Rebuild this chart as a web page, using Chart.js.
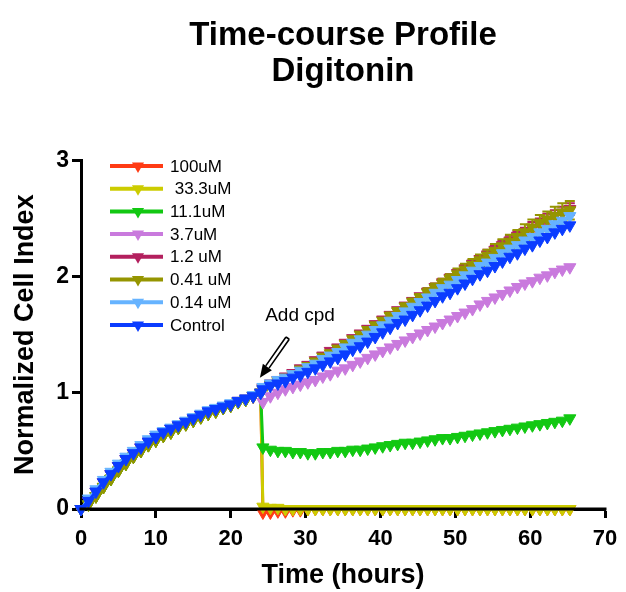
<!DOCTYPE html>
<html>
<head>
<meta charset="utf-8">
<title>Time-course Profile Digitonin</title>
<script src="https://cdn.jsdelivr.net/npm/chart.js@4/dist/chart.umd.min.js"></script>
<style>
  body { margin: 0; background: #fff; }
  #chart { display: block; }
</style>
</head>
<body>
<canvas id="chart" width="626" height="592"></canvas>
<script>
// sampling times (h): hourly until compound addition, then hourly after
const hours = [
  0, 1, 2, 3, 4, 5, 6, 7, 8, 9, 10, 11, 12, 13, 14, 15, 16, 17, 18, 19, 20, 21, 22, 23, 24,
  24.3, 25.3, 26.3, 27.3, 28.3, 29.3, 30.3, 31.3, 32.3, 33.3, 34.3, 35.3, 36.3, 37.3,
  38.3, 39.3, 40.3, 41.3, 42.3, 43.3, 44.3, 45.3, 46.3, 47.3, 48.3, 49.3, 50.3, 51.3,
  52.3, 53.3, 54.3, 55.3, 56.3, 57.3, 58.3, 59.3, 60.3, 61.3, 62.3, 63.3, 64.3, 65.3
];

const labels = ['100uM', ' 33.3uM', '11.1uM', '3.7uM', '1.2 uM', '0.41 uM', '0.14 uM', 'Control'];
const colors = ['#ff3b14', '#cccc00', '#12c812', '#c97add', '#b3205e', '#959500', '#66b3ff', '#0a3cff'];

// growth before addition (normalised to 1 at 24 h)
const preUpper = [0, 0.07, 0.15, 0.23, 0.30, 0.37, 0.43, 0.48, 0.53, 0.58, 0.62, 0.66, 0.69,
  0.72, 0.75, 0.78, 0.81, 0.84, 0.86, 0.88, 0.90, 0.93, 0.95, 0.97, 1.00];
const preLight = [0, 0.09, 0.17, 0.25, 0.32, 0.39, 0.45, 0.50, 0.55, 0.60, 0.64, 0.67, 0.70,
  0.73, 0.76, 0.79, 0.82, 0.85, 0.87, 0.89, 0.91, 0.93, 0.95, 0.98, 1.00];
const preLower = [0, 0.04, 0.11, 0.19, 0.26, 0.33, 0.39, 0.45, 0.50, 0.55, 0.59, 0.63, 0.66,
  0.70, 0.73, 0.76, 0.79, 0.82, 0.84, 0.87, 0.89, 0.92, 0.94, 0.97, 1.00];

// after addition
const post100 = [-0.03, -0.03, -0.02, -0.02, -0.01, -0.01, 0.00, 0.00, 0.00, 0.00, 0.00, 0.00, 0.00, 0.00,
  0.00, 0.00, 0.00, 0.00, 0.00, 0.00, 0.00, 0.00, 0.00, 0.00, 0.00, 0.00, 0.00, 0.00, 0.00, 0.00, 0.00,
  0.00, 0.00, 0.00, 0.00, 0.00, 0.00, 0.00, 0.00, 0.00, 0.00, 0.00];
const post33 = [0.02, 0.01, 0.01, 0.00, 0.00, 0.00, 0.00, 0.00, 0.00, 0.00, 0.00, 0.00, 0.00, 0.00,
  0.00, 0.00, 0.00, 0.00, 0.00, 0.00, 0.00, 0.00, 0.00, 0.00, 0.00, 0.00, 0.00, 0.00, 0.00, 0.00, 0.00,
  0.00, 0.00, 0.00, 0.00, 0.00, 0.00, 0.00, 0.00, 0.00, 0.00, 0.00];
const post11 = [0.53, 0.51, 0.50, 0.50, 0.49, 0.49, 0.48, 0.48, 0.49, 0.49, 0.50, 0.50, 0.51, 0.51,
  0.52, 0.53, 0.54, 0.55, 0.56, 0.57, 0.57, 0.58, 0.59, 0.60, 0.61, 0.61, 0.62, 0.63, 0.64, 0.65, 0.66,
  0.67, 0.68, 0.69, 0.70, 0.71, 0.72, 0.73, 0.74, 0.75, 0.76, 0.78];
const post37 = [0.92, 0.97, 1.00, 1.03, 1.05, 1.07, 1.09, 1.11, 1.14, 1.16, 1.19, 1.21, 1.24, 1.27,
  1.30, 1.33, 1.36, 1.39, 1.42, 1.45, 1.48, 1.51, 1.54, 1.57, 1.60, 1.63, 1.66, 1.69, 1.72, 1.76, 1.79,
  1.82, 1.85, 1.88, 1.91, 1.94, 1.96, 1.99, 2.01, 2.04, 2.06, 2.08];
const post12 = [1.04, 1.08, 1.11, 1.14, 1.17, 1.21, 1.24, 1.28, 1.32, 1.36, 1.39, 1.43, 1.47, 1.51,
  1.55, 1.59, 1.63, 1.67, 1.71, 1.75, 1.79, 1.83, 1.87, 1.91, 1.95, 1.99, 2.03, 2.07, 2.11, 2.15, 2.19,
  2.23, 2.27, 2.31, 2.35, 2.38, 2.42, 2.45, 2.49, 2.52, 2.55, 2.58];
const post041 = [1.03, 1.07, 1.10, 1.13, 1.16, 1.20, 1.23, 1.27, 1.31, 1.34, 1.38, 1.42, 1.46, 1.50,
  1.54, 1.58, 1.62, 1.66, 1.70, 1.74, 1.78, 1.82, 1.86, 1.90, 1.94, 1.98, 2.02, 2.06, 2.10, 2.14, 2.18,
  2.22, 2.26, 2.30, 2.34, 2.38, 2.42, 2.46, 2.49, 2.52, 2.55, 2.57];
const post014 = [1.05, 1.08, 1.11, 1.13, 1.16, 1.19, 1.22, 1.25, 1.29, 1.32, 1.35, 1.39, 1.43, 1.46,
  1.50, 1.54, 1.58, 1.62, 1.66, 1.70, 1.74, 1.78, 1.82, 1.86, 1.90, 1.93, 1.97, 2.01, 2.05, 2.09, 2.12,
  2.16, 2.20, 2.24, 2.27, 2.31, 2.34, 2.38, 2.41, 2.45, 2.48, 2.52];
const postCtrl = [1.03, 1.06, 1.08, 1.10, 1.13, 1.15, 1.18, 1.21, 1.24, 1.27, 1.30, 1.33, 1.37, 1.40,
  1.44, 1.48, 1.52, 1.56, 1.60, 1.63, 1.67, 1.71, 1.75, 1.79, 1.83, 1.86, 1.90, 1.94, 1.98, 2.02, 2.05,
  2.09, 2.13, 2.17, 2.20, 2.24, 2.27, 2.31, 2.34, 2.38, 2.41, 2.44];

// SD after addition (only these two show outside the symbols)
const sd12 = [0.01, 0.01, 0.01, 0.01, 0.01, 0.01, 0.01, 0.01, 0.01, 0.01, 0.01, 0.01, 0.01, 0.01,
  0.02, 0.02, 0.02, 0.02, 0.02, 0.02, 0.02, 0.02, 0.03, 0.03, 0.03, 0.03, 0.03, 0.03, 0.03, 0.03,
  0.04, 0.04, 0.04, 0.04, 0.04, 0.04, 0.05, 0.05, 0.05, 0.05, 0.05, 0.05];
const sd041 = [0.01, 0.01, 0.01, 0.01, 0.01, 0.01, 0.01, 0.01, 0.01, 0.01, 0.02, 0.02, 0.02, 0.02,
  0.02, 0.02, 0.02, 0.03, 0.03, 0.03, 0.03, 0.03, 0.04, 0.04, 0.04, 0.04, 0.05, 0.05, 0.05, 0.05,
  0.05, 0.06, 0.06, 0.06, 0.06, 0.07, 0.07, 0.07, 0.07, 0.08, 0.08, 0.08];

const series = [
  [...preLower, ...post100],
  [...preLower, ...post33],
  [...preLower, ...post11],
  [...preUpper, ...post37],
  [...preUpper, ...post12],
  [...preLower, ...post041],
  [...preLight, ...post014],
  [...preUpper, ...postCtrl]
];
const sds = [null, null, null, null, sd12, sd041, null, null];

const FONT = "'Liberation Sans', Arial, Helvetica, sans-serif";

const datasets = series.map((vals, i) => ({
  label: labels[i],
  data: vals.map((v, j) => ({ x: hours[j], y: v })),
  sd: sds[i],
  borderColor: colors[i],
  backgroundColor: colors[i],
  borderWidth: 3,
  pointStyle: 'triangle',
  rotation: 180,
  pointRadius: 7,
  pointBorderWidth: 1,
  pointBackgroundColor: colors[i],
  pointBorderColor: colors[i],
  tension: 0,
  clip: false,
  order: series.length - 1 - i   // later series end up on top
}));

// SD whiskers, drawn just under each series
const errorBars = {
  id: 'errorBars',
  beforeDatasetDraw(chart, args) {
    const ds = chart.data.datasets[args.index];
    if (!ds.sd) return;
    const { ctx, scales: { x, y } } = chart;
    const off = hours.length - ds.sd.length;
    ctx.save();
    ctx.strokeStyle = ds.borderColor;
    ctx.lineWidth = 2;
    ds.sd.forEach((s, k) => {
      const p = ds.data[k + off];
      const px = x.getPixelForValue(p.x);
      const top = y.getPixelForValue(p.y + s);
      const bot = y.getPixelForValue(p.y - s);
      ctx.beginPath();
      ctx.moveTo(px, top); ctx.lineTo(px, bot);
      ctx.moveTo(px - 5, top); ctx.lineTo(px + 5, top);
      ctx.moveTo(px - 5, bot); ctx.lineTo(px + 5, bot);
      ctx.stroke();
    });
    ctx.restore();
  }
};

// the x axis line sits over the symbols that lie on zero
const axisOnTop = {
  id: 'axisOnTop',
  afterDatasetsDraw(chart) {
    const { ctx, chartArea, scales: { y } } = chart;
    const py = y.getPixelForValue(0);
    ctx.save();
    ctx.strokeStyle = '#000';
    ctx.lineWidth = 3;
    ctx.beginPath();
    ctx.moveTo(chartArea.left - 1.5, py);
    ctx.lineTo(chartArea.right + 1.5, py);
    ctx.stroke();
    ctx.restore();
  }
};

function downTriangle(ctx, cx, cy, r) {
  ctx.beginPath();
  ctx.moveTo(cx - r * 0.866, cy - r * 0.5);
  ctx.lineTo(cx + r * 0.866, cy - r * 0.5);
  ctx.lineTo(cx, cy + r);
  ctx.closePath();
  ctx.fill();
}

// legend inside the plot, top left
const insideLegend = {
  id: 'insideLegend',
  afterDatasetsDraw(chart) {
    const ctx = chart.ctx;
    ctx.save();
    ctx.font = '17px ' + FONT;
    ctx.textBaseline = 'middle';
    chart.data.datasets.forEach((ds, i) => {
      const yy = 166 + i * 22.7;
      ctx.strokeStyle = ds.borderColor;
      ctx.fillStyle = ds.borderColor;
      ctx.lineWidth = 4;
      ctx.beginPath();
      ctx.moveTo(110, yy); ctx.lineTo(163, yy);
      ctx.stroke();
      downTriangle(ctx, 138, yy, 7);
      ctx.fillStyle = '#000';
      ctx.fillText(ds.label, 170, yy + 1);
    });
    ctx.restore();
  }
};

// "Add cpd" note with arrow at the time of addition
const addNote = {
  id: 'addNote',
  afterDraw(chart) {
    const { ctx, scales: { x, y } } = chart;
    const tx = x.getPixelForValue(23.9), ty = y.getPixelForValue(1.13);
    const sx = x.getPixelForValue(27.6), sy = y.getPixelForValue(1.47);
    const ang = Math.atan2(ty - sy, tx - sx);
    const head = 13, half = 5.5;
    const bx = tx - Math.cos(ang) * head, by = ty - Math.sin(ang) * head;
    const nx = -Math.sin(ang), ny = Math.cos(ang);
    ctx.save();
    ctx.strokeStyle = '#000';
    ctx.fillStyle = '#000';
    ctx.lineWidth = 1.6;
    ctx.beginPath();
    ctx.moveTo(sx + nx * 2, sy + ny * 2); ctx.lineTo(bx + nx * 2, by + ny * 2);
    ctx.moveTo(sx - nx * 2, sy - ny * 2); ctx.lineTo(bx - nx * 2, by - ny * 2);
    ctx.moveTo(sx + nx * 2, sy + ny * 2); ctx.lineTo(sx - nx * 2, sy - ny * 2);
    ctx.stroke();
    ctx.beginPath();
    ctx.moveTo(tx, ty);
    ctx.lineTo(bx + nx * half, by + ny * half);
    ctx.lineTo(bx - nx * half, by - ny * half);
    ctx.closePath();
    ctx.fill();
    ctx.font = '19px ' + FONT;
    ctx.textBaseline = 'alphabetic';
    ctx.fillText('Add cpd', x.getPixelForValue(24.6), y.getPixelForValue(1.62));
    ctx.restore();
  }
};

new Chart(document.getElementById('chart'), {
  type: 'line',
  data: { datasets },
  options: {
    responsive: false,
    animation: false,
    layout: { padding: { left: 0, right: 21, top: 0, bottom: 0 } },
    plugins: {
      legend: { display: false },
      tooltip: { enabled: false },
      title: {
        display: true,
        fullSize: false,
        text: ['Time-course Profile', 'Digitonin'],
        color: '#000',
        font: { family: FONT, size: 33, weight: 'bold', lineHeight: 1.08 },
        padding: { top: 18, bottom: 71 }
      }
    },
    scales: {
      x: {
        type: 'linear',
        min: 0,
        max: 70,
        ticks: { stepSize: 10, color: '#000', padding: 8, font: { family: FONT, size: 22, weight: 'bold' } },
        grid: { drawOnChartArea: false, tickLength: 9, tickWidth: 3, color: '#000' },
        border: { width: 3, color: '#000' },
        title: {
          display: true,
          text: 'Time (hours)',
          color: '#000',
          font: { family: FONT, size: 27, weight: 'bold' },
          padding: { top: 0, bottom: 0 }
        },
        afterFit(scale) { scale.height = 83; }
      },
      y: {
        min: 0,
        max: 3,
        ticks: { stepSize: 1, color: '#000', padding: 3, font: { family: FONT, size: 23, weight: 'bold' } },
        grid: { drawOnChartArea: false, tickLength: 9, tickWidth: 3, color: '#000' },
        border: { width: 3, color: '#000' },
        title: {
          display: true,
          text: 'Normalized Cell Index',
          color: '#000',
          font: { family: FONT, size: 27, weight: 'bold' },
          padding: { top: 9, bottom: 0 }
        },
        afterFit(scale) { scale.width = 81; }
      }
    }
  },
  plugins: [errorBars, axisOnTop, insideLegend, addNote]
});
</script>
</body>
</html>
